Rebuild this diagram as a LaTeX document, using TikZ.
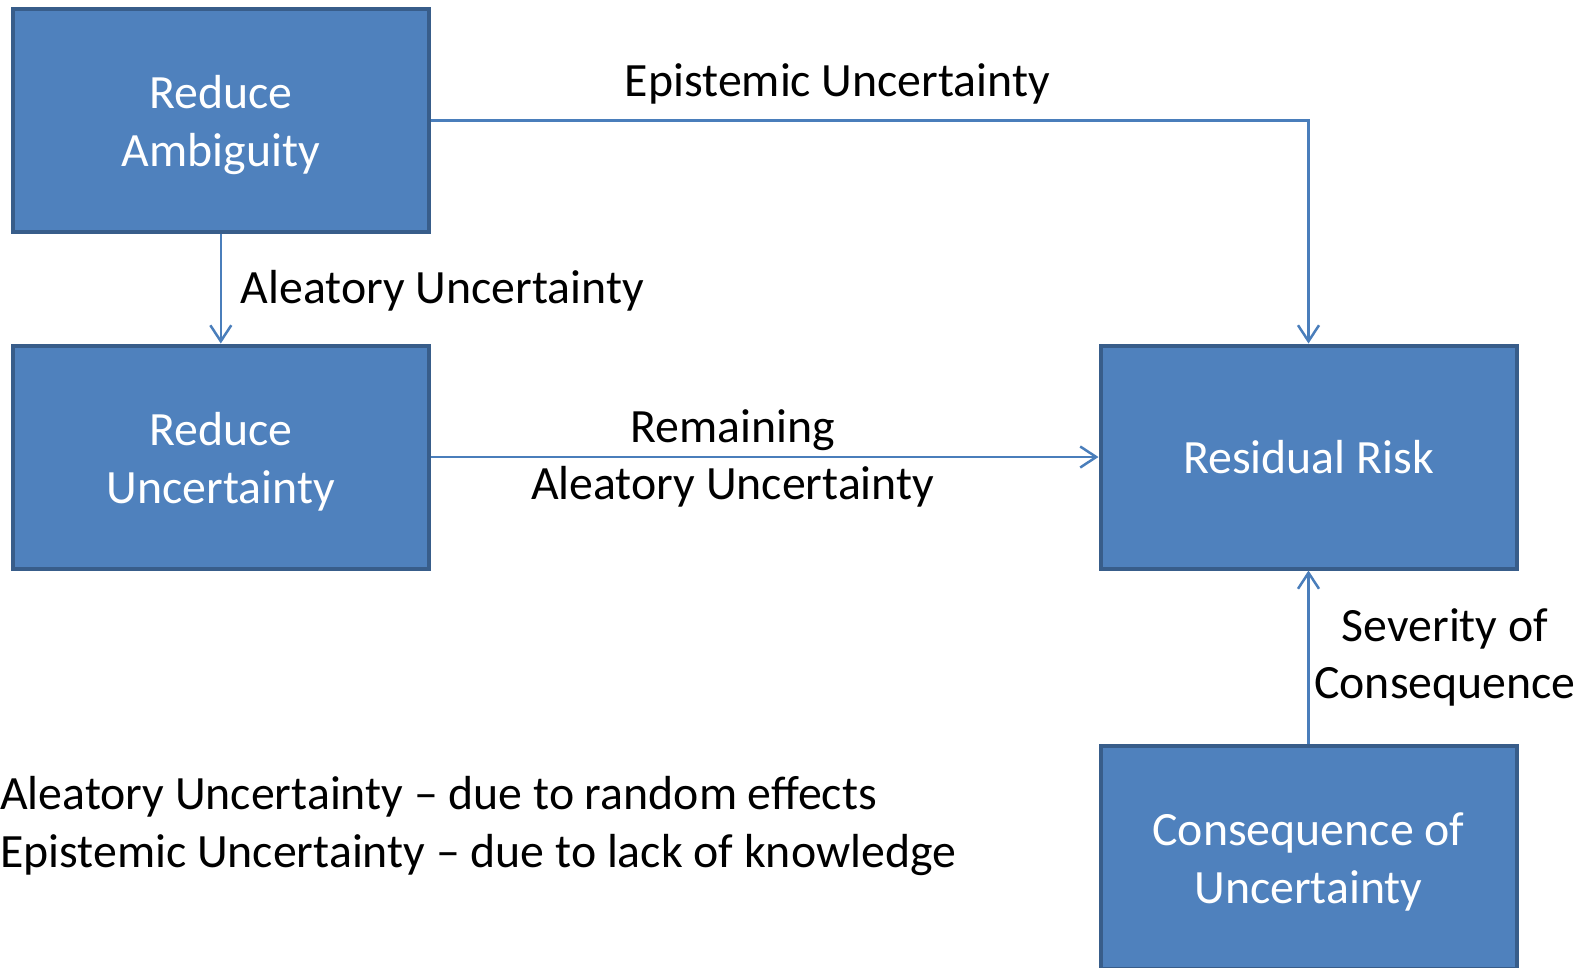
\documentclass[tikz,border=0pt]{standalone}
\usepackage{fontspec}
\setmainfont{Carlito}
\usetikzlibrary{arrows.meta}
\definecolor{boxfill}{HTML}{4F81BD}
\definecolor{boxdraw}{HTML}{385D8A}
\definecolor{conn}{HTML}{4A7EBB}
\newcommand{\topstrut}{\rule{0pt}{43pt}}
\tikzset{
  box/.style={draw=boxdraw, fill=boxfill, line width=4pt, minimum width=416pt, minimum height=223pt,
    text=white, align=center, inner sep=0pt, font=\fontsize{47.8}{58}\selectfont},
  lbl/.style={inner sep=0pt, text=black, font=\fontsize{47.8}{58}\selectfont},
  conarrow/.style={draw=conn, line width=2.5pt, -{Straight Barb[length=16pt,width=21pt,line width=2.5pt]}}
}
\begin{document}
\begin{tikzpicture}[x=1pt,y=-1pt]
\clip (0,0) rectangle (1591,967);
\fill[white] (0,0) rectangle (1591,967);
\node[box] (ra) at (220.8,120.5) {\topstrut Reduce\\Ambiguity};
\node[box] (ru) at (220.8,457) {\topstrut Reduce\\Uncertainty};
\node[box] (rr) at (1308.5,457) {Residual Risk};
\node[box] (cu) at (1308.5,857) {\topstrut Consequence of\\Uncertainty};
\draw[conarrow] (ra.south) -- (ru.north);
\draw[conarrow] (ra.east) -| (rr.north);
\draw[conarrow] (ru.east) -- (rr.west);
\draw[conarrow] (cu.north) -- (rr.south);
\node[lbl, anchor=base] (le) at (837.5,96.5) {Epistemic Uncertainty};
\node[lbl, anchor=base west] (la) at (240.7,303) {Aleatory Uncertainty};
\node[lbl, anchor=base] (lr1) at (732.6,442) {Remaining};
\node[lbl, anchor=base] (lr2) at (732.6,499) {Aleatory Uncertainty};
\node[lbl, anchor=base] (ls1) at (1445,641) {Severity of};
\node[lbl, anchor=base] (ls2) at (1445,698) {Consequence};
\node[lbl, anchor=base west] (n1) at (0,809) {Aleatory Uncertainty – due to random effects};
\node[lbl, anchor=base west] (n2) at (0,867.5) {Epistemic Uncertainty – due to lack of knowledge};
\end{tikzpicture}
\end{document}
